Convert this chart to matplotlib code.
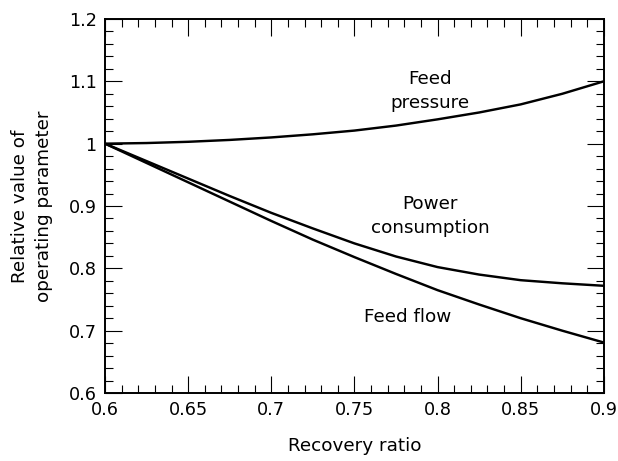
import numpy as np
from matplotlib import pyplot as plt
from matplotlib.ticker import MultipleLocator, FuncFormatter

# values
recovery = [0.6, 0.625, 0.65, 0.675, 0.7, 0.725, 0.75, 0.775, 0.8, 0.825, 0.85, 0.875, 0.9]
feed_pressure = [1.0, 1.001, 1.003, 1.006, 1.010, 1.015, 1.021, 1.029, 1.039, 1.050, 1.063, 1.080, 1.100]
power_consumption = [1.0, 0.972, 0.944, 0.916, 0.889, 0.864, 0.840, 0.819, 0.802, 0.790, 0.781, 0.776, 0.772]
feed_flow = [1.0, 0.969, 0.938, 0.907, 0.876, 0.846, 0.818, 0.791, 0.765, 0.742, 0.720, 0.700, 0.681]

plt.rcParams['font.family'] = ['DejaVu Sans']
plt.rcParams['font.size'] = 13.2

fig = plt.figure(figsize=(6.18, 4.61), dpi=100)
ax = fig.add_axes([0.170, 0.1475, 0.807, 0.8113])

for y in (feed_pressure, power_consumption, feed_flow):
    ax.plot(recovery, y, color='black', lw=1.75, solid_capstyle='butt')

ax.set_xlim(0.6, 0.9)
ax.set_ylim(0.6, 1.2)
ax.xaxis.set_major_locator(MultipleLocator(0.05))
ax.xaxis.set_minor_locator(MultipleLocator(0.01))
ax.yaxis.set_major_locator(MultipleLocator(0.1))
ax.yaxis.set_minor_locator(MultipleLocator(0.02))
fmt = FuncFormatter(lambda v, p: '{:g}'.format(round(v, 3)))
ax.xaxis.set_major_formatter(fmt)
ax.yaxis.set_major_formatter(fmt)
ax.tick_params(which='both', direction='in', top=True, right=True, width=0.8, color='black')
ax.tick_params(which='major', length=12, pad=6, labelsize=12.7)
ax.tick_params(which='minor', length=6)
for s in ax.spines.values():
    s.set_linewidth(1.4)

ax.set_xlabel('Recovery ratio', labelpad=13)
ax.set_ylabel('Relative value of\noperating parameter', labelpad=11, linespacing=1.45)

ax.text(0.7954, 1.0845, 'Feed\npressure', ha='center', va='center', linespacing=1.45)
ax.text(0.7954, 0.884, 'Power\nconsumption', ha='center', va='center', linespacing=1.45)
ax.text(0.782, 0.7225, 'Feed flow', ha='center', va='center')

fig.savefig('out.png', dpi=100)
